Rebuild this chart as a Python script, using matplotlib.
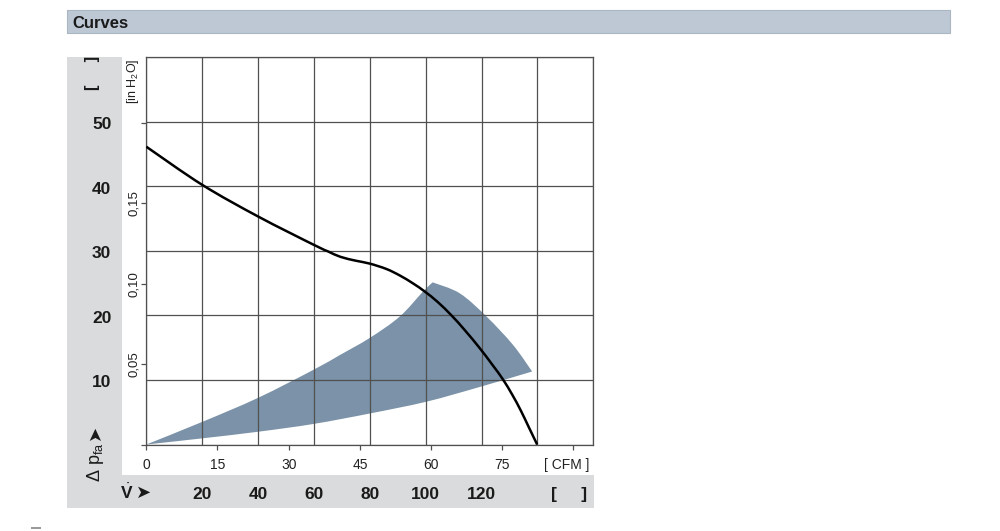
import matplotlib
matplotlib.use("Agg")
import matplotlib.pyplot as plt
from matplotlib import transforms
from matplotlib.patches import Rectangle, PathPatch
from matplotlib.path import Path
import numpy as np

W, H = 1000, 531

# ---------------- data ----------------
# fan curve: volume flow [m3/h] vs static pressure [Pa]
flow_m3h = [0, 20, 40, 60, 65, 69.5, 75, 80, 86, 90.8, 95.5, 99.7,
            104.2, 109.3, 114.0, 119.4, 124.1, 127.7, 131.0, 134.0, 137.0, 139.9]
pressure_pa = [46.1, 40.2, 35.3, 30.9, 29.9, 29.05, 28.45, 28.0, 27.16, 26.15, 24.93, 23.67,
               22.1, 19.96, 17.7, 14.89, 12.21, 10.05, 7.7, 5.3, 2.6, 0.0]

# operating range (shaded area), three edges
upper_flow = [0, 20.2, 40.1, 59.7, 69.3, 80, 90.7, 99, 102.5]
upper_pa = [0, 3.53, 7.24, 11.53, 13.85, 16.5, 19.8, 23.65, 25.1]
arc_flow = [102.5, 112.2, 121.8, 131.3, 138.1]
arc_pa = [25.1, 23.4, 19.8, 15.4, 11.3]
lower_flow = [138.1, 119.3, 100.3, 80, 59.7, 40.1, 20.2, 0]
lower_pa = [11.3, 8.9, 6.63, 4.8, 3.17, 1.98, 0.96, 0]

pa_ticks = [10, 20, 30, 40, 50]
m3h_ticks = [20, 40, 60, 80, 100, 120]
cfm_ticks = [0, 15, 30, 45, 60, 75, 90]
cfm_labels = ["0", "15", "30", "45", "60", "75", ""]
inh2o_ticks = [0, 0.05, 0.10, 0.15, 0.20]
inh2o_labels = ["", "0,05", "0,10", "0,15", ""]

M3H_PER_CFM = 1.69901
PA_PER_INH2O = 249.089

# ---------------- style ----------------
plt.rcParams["font.family"] = ["Liberation Sans", "DejaVu Sans"]
plt.rcParams["mathtext.fontset"] = "custom"
plt.rcParams["mathtext.rm"] = "Liberation Sans"
plt.rcParams["mathtext.it"] = "Liberation Sans:italic"
plt.rcParams["mathtext.bf"] = "Liberation Sans:bold"

GRID = "#505050"
PANEL = "#DADBDC"
TXT = "#1a1a1a"


def smooth_path_segments(xs, ys):
    """Catmull-Rom spline through the given points as cubic Bezier path segments."""
    p = np.column_stack([xs, ys]).astype(float)
    verts, codes = [], []
    n = len(p)
    for i in range(n - 1):
        p0 = p[i - 1] if i > 0 else p[i]
        p1, p2 = p[i], p[i + 1]
        p3 = p[i + 2] if i + 2 < n else p[i + 1]
        c1 = p1 + (p2 - p0) / 6.0
        c2 = p2 - (p3 - p1) / 6.0
        verts += [c1, c2, p2]
        codes += [Path.CURVE4] * 3
    return p[0], verts, codes


fig = plt.figure(figsize=(W / 100, H / 100), dpi=100)
fig.patch.set_facecolor("white")


def fx(px):
    return px / W


def fy(py):
    return 1 - py / H


# background panels
fig.patches.append(Rectangle((fx(67), fy(33)), fx(950) - fx(67), fy(10) - fy(33),
                             transform=fig.transFigure, fc="#BDC8D4", ec="#AAB6C2", lw=0.8, zorder=-2))
fig.patches.append(Rectangle((fx(67), fy(508)), fx(122) - fx(67), fy(57) - fy(508),
                             transform=fig.transFigure, fc=PANEL, ec="none", zorder=-2))
fig.patches.append(Rectangle((fx(67), fy(508)), fx(594) - fx(67), fy(475) - fy(508),
                             transform=fig.transFigure, fc=PANEL, ec="none", zorder=-2))
fig.patches.append(Rectangle((fx(31), fy(529)), fx(41) - fx(31), fy(527) - fy(529),
                             transform=fig.transFigure, fc="#9a9a9a", ec="none", zorder=-2))

fig.text(fx(72), fy(28.5), "Curves", fontsize=12, fontweight="bold", color=TXT,
         ha="left", va="baseline", zorder=5)

# main axes
L, R, T, B = 146.3, 593.3, 56.9, 444.5
ax = fig.add_axes([fx(L), fy(B), fx(R) - fx(L), fy(T) - fy(B)])
ax.set_xlim(0, 160)
ax.set_ylim(0, 60)
ax.set_xticks(np.arange(0, 161, 20))
ax.set_yticks(np.arange(0, 61, 10))
ax.tick_params(length=0, labelbottom=False, labelleft=False)
ax.set_axisbelow(True)
ax.grid(True, color=GRID, lw=0.9)
for s in ax.spines.values():
    s.set_color(GRID)
    s.set_linewidth(0.9)

# shaded operating range
start, v1, c1 = smooth_path_segments(upper_flow, upper_pa)
_, v2, c2 = smooth_path_segments(arc_flow, arc_pa)
_, v3, c3 = smooth_path_segments(lower_flow, lower_pa)
verts = [start] + v1 + [np.array([arc_flow[0], arc_pa[0]])] + v2 + \
        [np.array([lower_flow[0], lower_pa[0]])] + v3 + [start]
codes = [Path.MOVETO] + c1 + [Path.LINETO] + c2 + [Path.LINETO] + c3 + [Path.CLOSEPOLY]
ax.add_patch(PathPatch(Path(np.array(verts), codes), fc="#7B92A8", ec="none", zorder=0.3))

# fan curve
s0, vc, cc = smooth_path_segments(flow_m3h, pressure_pa)
curve = Path(np.array([s0] + vc), [Path.MOVETO] + cc)
ax.add_patch(PathPatch(curve, fc="none", ec="black", lw=1.8, zorder=3, capstyle="butt"))

# inch H2O secondary axis
sec = ax.secondary_yaxis("left", functions=(lambda p: p / PA_PER_INH2O, lambda i: i * PA_PER_INH2O))
sec.set_yticks(inh2o_ticks)
sec.set_yticklabels(inh2o_labels)
sec.tick_params(direction="out", length=3.6, width=0.9, color=GRID, labelsize=9.5,
                pad=0.8, labelcolor="#222222")
for lab in sec.get_yticklabels():
    lab.set_rotation(90)
    lab.set_va("center")
sec.spines["left"].set_visible(False)

# CFM secondary axis (ticks only)
secx = ax.secondary_xaxis("bottom", functions=(lambda m: m / M3H_PER_CFM, lambda c: c * M3H_PER_CFM))
secx.set_xticks(cfm_ticks)
secx.set_xticklabels([""] * len(cfm_ticks))
secx.tick_params(direction="out", length=3.6, width=0.9, color=GRID)
secx.spines["bottom"].set_visible(False)

# CFM labels
tb = transforms.blended_transform_factory(ax.transData, fig.transFigure)
for c, lab in zip(cfm_ticks, cfm_labels):
    if lab:
        fig.text(c * M3H_PER_CFM, fy(469), lab, transform=tb, ha="center", va="baseline",
                 fontsize=10, color="#222222")
fig.text(fx(567), fy(469), "[ CFM ]", ha="center", va="baseline", fontsize=10, color="#222222")

# m3/h labels (bold, bottom band)
for m in m3h_ticks:
    fig.text(m, fy(499), str(m), transform=tb, ha="center", va="baseline",
             fontsize=12.5, fontweight="bold", color=TXT)
fig.text(fx(569), fy(499), "[     ]", ha="center", va="baseline", fontsize=12.5,
         fontweight="bold", color=TXT)
fig.text(fx(127), fy(499), r"$\dot{\mathbf{V}}$", ha="center", va="baseline", fontsize=12.5, color=TXT)
fig.text(fx(144), fy(493), "➤", ha="center", va="center", fontsize=13,
         family=["DejaVu Sans"], color=TXT)

# Pa labels (bold, left panel)
tl = transforms.offset_copy(transforms.blended_transform_factory(fig.transFigure, ax.transData),
                            fig=fig, x=0, y=-7.5, units="dots")
for p in pa_ticks:
    fig.text(fx(101.7), p, str(p), transform=tl, ha="center", va="baseline",
             fontsize=12.5, fontweight="bold", color=TXT)
fig.text(fx(93), fy(73), "[     ]", rotation=90, ha="center", va="center", fontsize=12,
         fontweight="bold", color=TXT)
fig.text(fx(133), fy(81), r"[in H$_2$O]", rotation=90, ha="center", va="center", fontsize=9,
         color="#222222")
fig.text(fx(96), fy(462), r"$\Delta$ p$_{\mathrm{fa}}$", rotation=90, ha="center", va="center",
         fontsize=13, color=TXT)
fig.text(fx(95), fy(432), "➤", rotation=90, ha="center", va="center", fontsize=13,
         family=["DejaVu Sans"], color=TXT)

fig.savefig("out.png", dpi=100, facecolor="white")
